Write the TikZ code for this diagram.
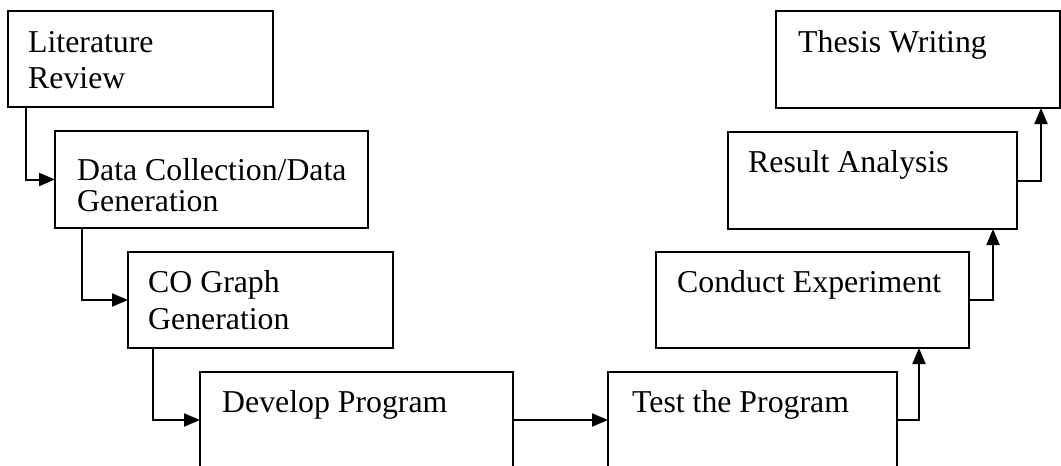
\documentclass[tikz,border=0pt]{standalone}
\usepackage{fontspec}
\setmainfont{Liberation Serif}
\usetikzlibrary{arrows.meta,calc}

\tikzset{
  stagebox/.style={draw, line width=2pt, rectangle, inner sep=0pt, outer sep=0pt,
    anchor=north west, minimum width=#1},
  stagebox/.default=300pt,
  label1/.style={anchor=base west, inner sep=0pt, align=left,
    font=\fontsize{31.8}{36}\selectfont},
  flow/.style={line width=2pt, -{Triangle[length=16pt,width=13pt]}},
}

\begin{document}
\begin{tikzpicture}[x=1pt, y=-1pt]
\fill[white] (0,0) rectangle (1061,466);
\useasboundingbox (0,0) rectangle (1061,466);
\clip (0,0) rectangle (1061,466);

% stages, left branch going down
\node[stagebox=265pt, minimum height=96pt] (lit) at (8,11) {};
\node[stagebox=313pt, minimum height=97pt] (data) at (55,131) {};
\node[stagebox=265pt, minimum height=96pt] (co) at (128,252) {};
\node[stagebox=313pt, minimum height=96pt] (dev) at (200,372) {};

% stages, right branch going up
\node[stagebox=289pt, minimum height=96pt] (test) at (608,372) {};
\node[stagebox=313pt, minimum height=96pt] (cond) at (656,252) {};
\node[stagebox=289pt, minimum height=97pt] (res) at (728,132) {};
\node[stagebox=284pt, minimum height=97pt] (thesis) at (776,11) {};

% stage titles
\node[label1] (litT1) at (28,52) {Literature};
\node[label1] (litT2) at (28,88) {Review};
\node[label1] (dataT1) at (77,180) {Data Collection/Data};
\node[label1] (dataT2) at (77,211) {Generation};
\node[label1] (coT1) at (148,292) {CO Graph};
\node[label1] (coT2) at (148,329) {Generation};
\node[label1] (devT) at (222,412) {Develop Program};
\node[label1] (testT) at (632,412) {Test the Program};
\node[label1] (condT) at (677,292) {Conduct Experiment};
\node[label1] (resT) at (748,172) {Result Analysis};
\node[label1] (thesisT) at (798,52) {Thesis Writing};

% connectors
\draw[flow] ($(lit.south west)+(18,0)$) |- (data.west);
\draw[flow] ($(data.south west)+(27,0)$) |- (co.west);
\draw[flow] ($(co.south west)+(25,0)$) |- (dev.west);
\draw[flow] (dev.east) -- (test.west);
\draw[flow] (test.east) -| ($(cond.south west)+(263,0)$);
\draw[flow] (cond.east) -| ($(res.south west)+(265,0)$);
\draw[flow] (res.east) -| ($(thesis.south west)+(265,0)$);
\end{tikzpicture}
\end{document}
